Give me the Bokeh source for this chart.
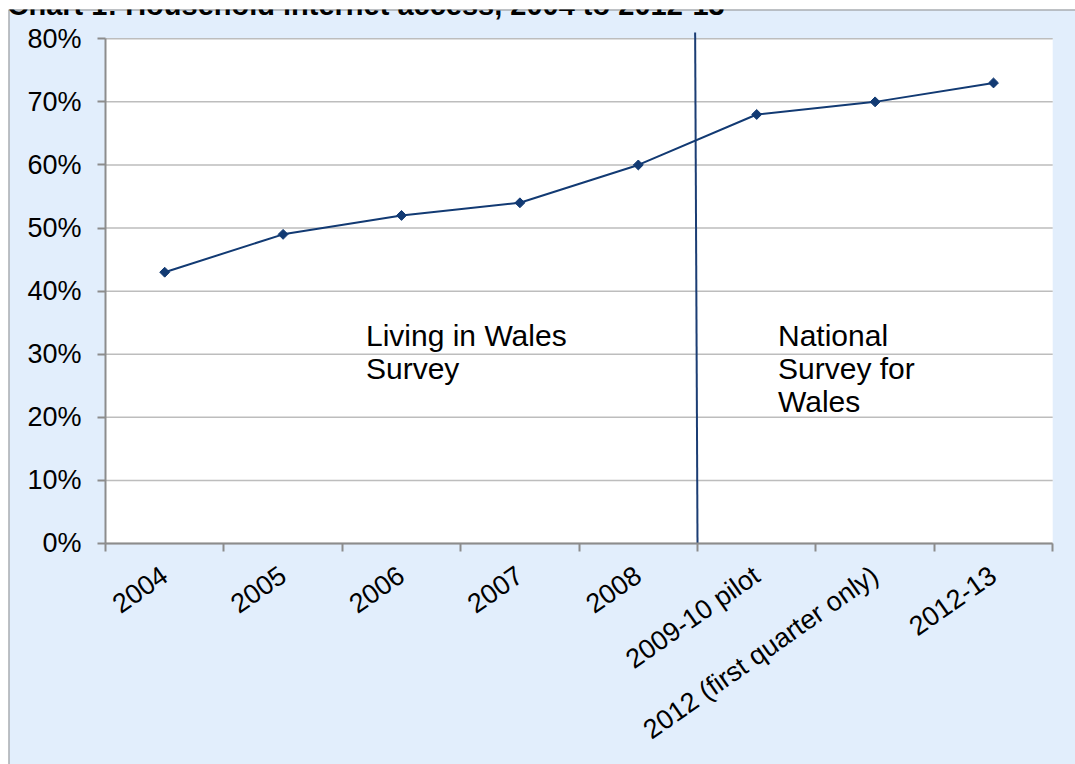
import math
from bokeh.plotting import figure
from bokeh.models import (LinearAxis, FixedTicker, PrintfTickFormatter, Range1d, Label, Span)
from bokeh.embed import file_html
from bokeh.resources import INLINE

# ---- data ----
categories = ["2004", "2005", "2006", "2007", "2008", "2009-10 pilot",
              "2012 (first quarter only)", "2012-13"]
internet_access = [43, 49, 52, 54, 60, 68, 70, 73]
y_ticks = [0, 10, 20, 30, 40, 50, 60, 70, 80]
title_text = "Chart 1: Household internet access, 2004 to 2012-13"
left_note = "Living in Wales\nSurvey"
right_note = "National\nSurvey for\nWales"
divider_after = "2008"

# ---- styles ----
FONT = "Liberation Sans"
NAVY = "#123A73"
AXIS_GREY = "#8C8C8C"
GRID_GREY = "#BDBDBD"
CHART_BG = "#E2EEFC"

xs = [i + 0.5 for i in range(len(categories))]
n = len(categories)
ymax = y_ticks[-1]

W, H = 1075, 764
x_range = Range1d(-0.8193, 8.1925)
y_range = Range1d(-35.03, 84.64)
p = figure(width=W, height=H, output_backend="svg", toolbar_location=None,
           x_axis_location=None, y_axis_location=None,
           x_range=x_range, y_range=y_range,
           min_border_left=8, min_border_top=9, min_border_right=0, min_border_bottom=0)
p.border_fill_color = "white"
p.background_fill_color = CHART_BG
p.outline_line_color = None
p.xgrid.visible = False
p.ygrid.visible = False

# chart-area border (top and left edges; the rest runs off the page)
p.add_layout(Span(location=x_range.start, dimension="height", line_color=AXIS_GREY, line_width=2))
p.add_layout(Span(location=y_range.end, dimension="width", line_color=AXIS_GREY, line_width=2))

# plot area
p.quad(left=[0], right=[n], bottom=[0], top=[ymax], fill_color="white", line_color=None)

# gridlines
p.segment(x0=[0] * len(y_ticks), x1=[n] * len(y_ticks), y0=y_ticks, y1=y_ticks,
          line_color=GRID_GREY, line_width=1.5)

# divider line between surveys
div_x = categories.index(divider_after) + 1
p.segment(x0=[div_x], x1=[div_x - 0.02], y0=[0], y1=[ymax + 1.0], line_color="#1B3D74", line_width=2)

# data series
p.line(xs, internet_access, line_color=NAVY, line_width=2)
p.scatter(xs, internet_access, marker="square", angle=math.pi / 4, size=7,
          fill_color=NAVY, line_color=NAVY)

# y axis
yaxis = LinearAxis(fixed_location=0, ticker=FixedTicker(ticks=y_ticks),
                   formatter=PrintfTickFormatter(format="%d%%"), bounds=(0, ymax),
                   major_tick_out=8, major_tick_in=0, minor_tick_out=0, minor_tick_in=0,
                   axis_line_color=AXIS_GREY, axis_line_width=2,
                   major_tick_line_color=AXIS_GREY, major_tick_line_width=2,
                   major_label_text_font=FONT, major_label_text_font_size="27px",
                   major_label_text_color="black", major_label_standoff=16)
p.add_layout(yaxis, "left")

# x axis (tick marks between categories)
xtick_axis = LinearAxis(fixed_location=0, ticker=FixedTicker(ticks=list(range(n + 1))),
                        bounds=(0, n), major_tick_out=8, major_tick_in=0,
                        minor_tick_out=0, minor_tick_in=0,
                        axis_line_color=AXIS_GREY, axis_line_width=2,
                        major_tick_line_color=AXIS_GREY, major_tick_line_width=2,
                        major_label_overrides={i: "" for i in range(n + 1)})
p.add_layout(xtick_axis, "below")

# x axis (category labels)
xlab_axis = LinearAxis(fixed_location=0, ticker=FixedTicker(ticks=xs),
                       major_label_overrides={x: c for x, c in zip(xs, categories)},
                       axis_line_color=None, major_tick_line_color=None,
                       minor_tick_line_color=None, major_tick_out=0, major_tick_in=0,
                       major_label_orientation=math.radians(35),
                       major_label_text_font=FONT, major_label_text_font_size="27px",
                       major_label_text_color="black", major_label_standoff=29)
p.add_layout(xlab_axis, "below")

# notes
p.add_layout(Label(x=2.2, y=35.6, text=left_note, text_font=FONT, text_font_size="30px",
                   text_line_height=1.0,
                   text_baseline="top", text_align="left", text_color="black"))
p.add_layout(Label(x=5.68, y=35.6, text=right_note, text_font=FONT, text_font_size="30px",
                   text_line_height=1.0,
                   text_baseline="top", text_align="left", text_color="black"))

# title (cut off at the top, as in the original)
p.add_layout(Label(x=-1, y=H - 4.5, x_units="screen", y_units="screen", text=title_text,
                   text_font=FONT, text_font_size="29px", text_font_style="bold",
                   text_baseline="alphabetic", text_align="left", text_color="black"))

open("out.html", "w").write(file_html(p, INLINE))
